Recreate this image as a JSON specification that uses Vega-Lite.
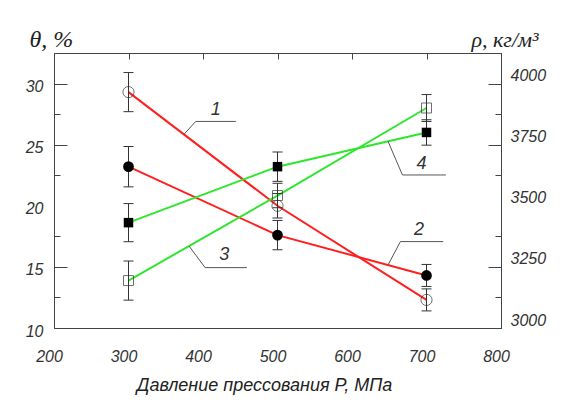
{
  "$schema": "https://vega.github.io/schema/vega-lite/v6.json",
  "width": 447,
  "height": 275,
  "autosize": {"type": "none"},
  "padding": {"left": 54, "top": 53, "right": 62, "bottom": 74},
  "background": "white",
  "config": {
    "view": {"stroke": "#444", "strokeWidth": 1},
    "axis": {
      "grid": false,
      "ticks": false,
      "tickSize": 0,
      "domainColor": "#444",
      "labelFont": "Liberation Sans",
      "labelFontStyle": "italic",
      "labelFontSize": 16,
      "labelColor": "#333",
      "titleFont": "Liberation Sans",
      "titleFontStyle": "italic",
      "titleFontWeight": "normal",
      "titleColor": "#222"
    }
  },
  "datasets": {
    "theta": [
      {"P": 300, "v": 29.3, "lo": 27.7, "hi": 30.9, "curve": "1"},
      {"P": 500, "v": 20.0, "lo": 19.0, "hi": 21.0, "curve": "1"},
      {"P": 700, "v": 12.3, "lo": 11.4, "hi": 13.2, "curve": "1"},
      {"P": 300, "v": 23.2, "lo": 21.55, "hi": 24.85, "curve": "2"},
      {"P": 500, "v": 17.6, "lo": 16.4, "hi": 18.8, "curve": "2"},
      {"P": 700, "v": 14.3, "lo": 13.4, "hi": 15.2, "curve": "2"}
    ],
    "rho": [
      {"P": 300, "v": 3194, "lo": 3114, "hi": 3274, "curve": "3"},
      {"P": 500, "v": 3542, "lo": 3492, "hi": 3592, "curve": "3"},
      {"P": 700, "v": 3900, "lo": 3845, "hi": 3955, "curve": "3"},
      {"P": 300, "v": 3431, "lo": 3353, "hi": 3509, "curve": "4"},
      {"P": 500, "v": 3660, "lo": 3600, "hi": 3720, "curve": "4"},
      {"P": 700, "v": 3800, "lo": 3748, "hi": 3852, "curve": "4"}
    ],
    "leaders": [
      {"id": "1", "seq": 1, "P": 374.4, "t": 25.84},
      {"id": "1", "seq": 2, "P": 390.2, "t": 26.9},
      {"id": "1", "seq": 3, "P": 444.1, "t": 26.9},
      {"id": "2", "seq": 1, "P": 648.3, "t": 15.15},
      {"id": "2", "seq": 2, "P": 665.0, "t": 17.07},
      {"id": "2", "seq": 3, "P": 722.4, "t": 17.07},
      {"id": "3", "seq": 1, "P": 381.2, "t": 16.71},
      {"id": "3", "seq": 2, "P": 402.8, "t": 14.94},
      {"id": "3", "seq": 3, "P": 458.9, "t": 14.94},
      {"id": "4", "seq": 1, "P": 648.3, "t": 25.28},
      {"id": "4", "seq": 2, "P": 667.7, "t": 22.52},
      {"id": "4", "seq": 3, "P": 726.0, "t": 22.52}
    ],
    "labels": [
      {"id": "1", "P": 417.2, "t": 27.8},
      {"id": "2", "P": 690.0, "t": 18.0},
      {"id": "3", "P": 428.4, "t": 16.0},
      {"id": "4", "P": 693.3, "t": 23.45}
    ]
  },
  "layer": [
    {
      "data": {"name": "theta"},
      "mark": {"type": "line", "strokeWidth": 2},
      "encoding": {
        "x": {"field": "P", "type": "quantitative", "scale": {"domain": [200, 800], "nice": false, "zero": false},
          "axis": {
            "orient": "bottom",
            "values": [200, 250, 300, 350, 400, 450, 500, 550, 600, 650, 700, 750, 800],
            "labelExpr": "datum.value % 100 == 0 ? datum.label : ''",
            "grid": true,
            "gridColor": "#444",
            "gridWidth": 1,
            "gridDash": [6, 400],
            "gridCap": "butt",
            "labelPadding": 20,
            "labelOffset": -5,
            "labelFlush": false,
            "labelOverlap": false,
            "title": "Давление прессования P, МПа",
            "titleFontSize": 18,
            "titleBaseline": "alphabetic",
            "titleX": 210,
            "titleY": 62
          }},
        "y": {"field": "v", "type": "quantitative", "scale": {"domain": [10, 32.5], "nice": false, "zero": false},
          "axis": {
            "orient": "left",
            "values": [10, 12.5, 15, 17.5, 20, 22.5, 25, 27.5, 30],
            "labelExpr": "datum.value % 5 == 0 ? datum.label : ''",
            "grid": true,
            "gridColor": "#444",
            "gridWidth": 1,
            "gridCap": "butt",
            "gridDash": {"condition": {"test": "datum.value % 5 == 0", "value": [13, 421, 13, 0]}, "value": [6, 435, 6, 0]},
            "gridOpacity": {"condition": {"test": "datum.value == 20 || datum.value == 10", "value": 0}, "value": 1},
            "labelPadding": 11,
            "labelOffset": 3,
            "labelFlush": false,
            "labelOverlap": false,
            "title": "θ, %",
            "titleFont": "Liberation Serif",
            "titleFontSize": 24,
            "titleAngle": 0,
            "titleAlign": "left",
            "titleBaseline": "alphabetic",
            "titleX": -25,
            "titleY": -7
          }},
        "color": {"field": "curve", "type": "nominal", "scale": {"domain": ["1", "2", "3", "4"], "range": ["#ff1f1f", "#ff1f1f", "#2ee62e", "#2ee62e"]}, "legend": null}
      }
    },
    {
      "data": {"name": "rho"},
      "mark": {"type": "line", "strokeWidth": 2},
      "encoding": {
        "x": {"field": "P", "type": "quantitative"},
        "y": {"field": "v", "type": "quantitative", "scale": {"domain": [3000, 4125], "nice": false, "zero": false},
          "axis": {
            "orient": "right",
            "values": [3000, 3250, 3500, 3750, 4000],
            "format": "d",
            "labelPadding": 9,
            "labelOffset": -8,
            "labelFlush": false,
            "labelOverlap": false,
            "title": "ρ, кг/м³",
            "titleFont": "Liberation Serif",
            "titleFontSize": 22,
            "titleAngle": 0,
            "titleAlign": "left",
            "titleBaseline": "alphabetic",
            "titleX": -30,
            "titleY": -7
          }},
        "color": {"field": "curve", "type": "nominal", "scale": {"domain": ["1", "2", "3", "4"], "range": ["#ff1f1f", "#ff1f1f", "#2ee62e", "#2ee62e"]}, "legend": null}
      }
    },
    {
      "data": {"name": "leaders"},
      "mark": {"type": "line", "color": "#555", "strokeWidth": 1},
      "encoding": {
        "x": {"field": "P", "type": "quantitative"},
        "y": {"field": "t", "type": "quantitative", "scale": {"domain": [10, 32.5], "nice": false, "zero": false}, "axis": null},
        "detail": {"field": "id", "type": "nominal"},
        "order": {"field": "seq", "type": "quantitative"}
      }
    },
    {
      "data": {"name": "labels"},
      "mark": {"type": "text", "font": "Liberation Sans", "fontStyle": "italic", "fontSize": 18, "color": "#333"},
      "encoding": {
        "x": {"field": "P", "type": "quantitative"},
        "y": {"field": "t", "type": "quantitative", "scale": {"domain": [10, 32.5], "nice": false, "zero": false}, "axis": null},
        "text": {"field": "id", "type": "nominal"}
      }
    },
    {
      "data": {"name": "theta"},
      "mark": {"type": "rule", "color": "#333", "strokeWidth": 1},
      "encoding": {
        "x": {"field": "P", "type": "quantitative"},
        "y": {"field": "lo", "type": "quantitative", "scale": {"domain": [10, 32.5], "nice": false, "zero": false}, "axis": null},
        "y2": {"field": "hi"}
      }
    },
    {
      "data": {"name": "theta"},
      "mark": {"type": "tick", "orient": "horizontal", "color": "#333", "size": 10, "thickness": 1, "opacity": 1},
      "encoding": {
        "x": {"field": "P", "type": "quantitative"},
        "y": {"field": "lo", "type": "quantitative", "scale": {"domain": [10, 32.5], "nice": false, "zero": false}, "axis": null}
      }
    },
    {
      "data": {"name": "theta"},
      "mark": {"type": "tick", "orient": "horizontal", "color": "#333", "size": 10, "thickness": 1, "opacity": 1},
      "encoding": {
        "x": {"field": "P", "type": "quantitative"},
        "y": {"field": "hi", "type": "quantitative", "scale": {"domain": [10, 32.5], "nice": false, "zero": false}, "axis": null}
      }
    },
    {
      "data": {"name": "rho"},
      "mark": {"type": "rule", "color": "#333", "strokeWidth": 1},
      "encoding": {
        "x": {"field": "P", "type": "quantitative"},
        "y": {"field": "lo", "type": "quantitative", "scale": {"domain": [3000, 4125], "nice": false, "zero": false}, "axis": null},
        "y2": {"field": "hi"}
      }
    },
    {
      "data": {"name": "rho"},
      "mark": {"type": "tick", "orient": "horizontal", "color": "#333", "size": 10, "thickness": 1, "opacity": 1},
      "encoding": {
        "x": {"field": "P", "type": "quantitative"},
        "y": {"field": "lo", "type": "quantitative", "scale": {"domain": [3000, 4125], "nice": false, "zero": false}, "axis": null}
      }
    },
    {
      "data": {"name": "rho"},
      "mark": {"type": "tick", "orient": "horizontal", "color": "#333", "size": 10, "thickness": 1, "opacity": 1},
      "encoding": {
        "x": {"field": "P", "type": "quantitative"},
        "y": {"field": "hi", "type": "quantitative", "scale": {"domain": [3000, 4125], "nice": false, "zero": false}, "axis": null}
      }
    },
    {
      "data": {"name": "theta"},
      "transform": [{"filter": "datum.curve == '1'"}],
      "mark": {"type": "point", "shape": "circle", "filled": false, "size": 125, "stroke": "#333", "strokeWidth": 1},
      "encoding": {
        "x": {"field": "P", "type": "quantitative"},
        "y": {"field": "v", "type": "quantitative", "scale": {"domain": [10, 32.5], "nice": false, "zero": false}, "axis": null}
      }
    },
    {
      "data": {"name": "theta"},
      "transform": [{"filter": "datum.curve == '2'"}],
      "mark": {"type": "point", "shape": "circle", "filled": true, "size": 115, "color": "#000", "opacity": 1},
      "encoding": {
        "x": {"field": "P", "type": "quantitative"},
        "y": {"field": "v", "type": "quantitative", "scale": {"domain": [10, 32.5], "nice": false, "zero": false}, "axis": null}
      }
    },
    {
      "data": {"name": "rho"},
      "transform": [{"filter": "datum.curve == '3'"}],
      "mark": {"type": "point", "shape": "square", "filled": false, "size": 100, "stroke": "#333", "strokeWidth": 1},
      "encoding": {
        "x": {"field": "P", "type": "quantitative"},
        "y": {"field": "v", "type": "quantitative", "scale": {"domain": [3000, 4125], "nice": false, "zero": false}, "axis": null}
      }
    },
    {
      "data": {"name": "rho"},
      "transform": [{"filter": "datum.curve == '4'"}],
      "mark": {"type": "point", "shape": "square", "filled": true, "size": 90, "color": "#000", "opacity": 1},
      "encoding": {
        "x": {"field": "P", "type": "quantitative"},
        "y": {"field": "v", "type": "quantitative", "scale": {"domain": [3000, 4125], "nice": false, "zero": false}, "axis": null}
      }
    }
  ],
  "resolve": {"scale": {"y": "independent"}}
}
